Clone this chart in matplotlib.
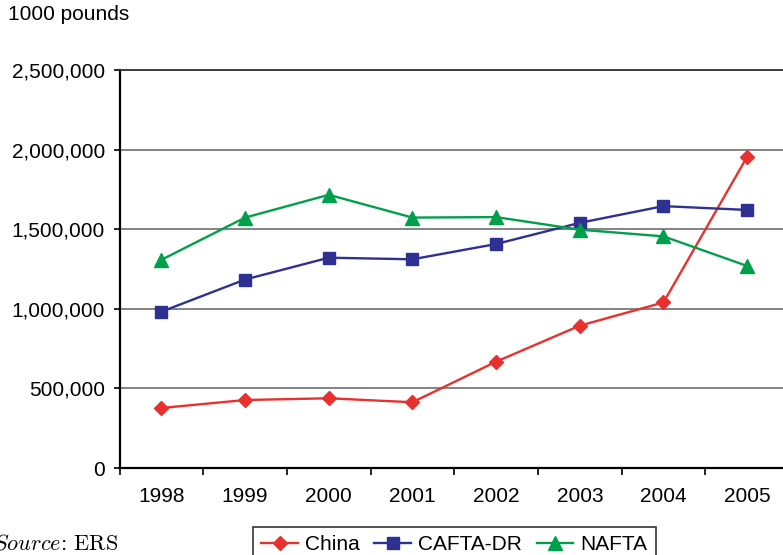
import matplotlib.pyplot as plt

plt.rcParams['font.family'] = ['Liberation Sans', 'DejaVu Sans']
plt.rcParams['mathtext.fontset'] = 'cm'

# Imports by source, 1000 pounds
years = ['1998', '1999', '2000', '2001', '2002', '2003', '2004', '2005']
china = [377000, 427000, 438000, 413000, 668000, 894000, 1040000, 1955000]
cafta_dr = [982000, 1184000, 1321000, 1311000, 1407000, 1540000, 1645000, 1621000]
nafta = [1308000, 1573000, 1716000, 1573000, 1576000, 1497000, 1455000, 1269000]
yticks = [0, 500000, 1000000, 1500000, 2000000, 2500000]

fig = plt.figure(figsize=(7.83, 5.55), dpi=100)
ax = fig.add_axes([119.6 / 783, 87 / 555, (789 - 119.6) / 783, 398 / 555])

x = range(len(years))
ax.plot(x, china, color='#E8312F', lw=1.7, marker='D', ms=7.5, label='China')
ax.plot(x, cafta_dr, color='#2E3192', lw=1.7, marker='s', ms=9, label='CAFTA-DR')
ax.plot(x, nafta, color='#00A04B', lw=1.7, marker='^', ms=10, label='NAFTA')

ax.set_xlim(-0.5, len(years) - 0.5)
ax.set_ylim(0, 2500000)
ax.set_yticks(yticks)
ax.set_yticklabels([f'{v:,}' for v in yticks])
ax.set_xticks([i for i in x])
ax.set_xticklabels(years)
ax.set_xticks([i - 0.5 for i in range(len(years) + 1)], minor=True)
ax.tick_params(axis='x', which='major', length=0, pad=14, labelsize=15)
ax.tick_params(axis='x', which='minor', length=5, width=1.2, direction='out')
ax.tick_params(axis='y', length=4.5, width=1.2, pad=6, labelsize=15)

ax.grid(axis='y', color='#7a7a7a', lw=1.3)
ax.set_axisbelow(True)
ax.spines['right'].set_visible(False)
ax.spines['top'].set_color('#333333')
ax.spines['top'].set_linewidth(1.3)
ax.spines['left'].set_linewidth(1.6)
ax.spines['bottom'].set_linewidth(1.6)

fig.text(8 / 783, 1 - 15 / 555, '1000 pounds', fontsize=15, va='center', ha='left')
fig.text(118 / 783, 1 - 543 / 555, r'$\mathit{Source}$: ERS', fontsize=16,
         family='cmr10', va='center', ha='right')

leg = fig.legend(loc='upper left', bbox_to_anchor=(253 / 783, 1 - 527 / 555), ncol=3,
                 fontsize=15, frameon=True, fancybox=False, edgecolor='black',
                 handlelength=1.75, handletextpad=0.35, columnspacing=0.7,
                 borderpad=0.4, borderaxespad=0)
leg.get_frame().set_linewidth(1.2)

fig.savefig('out.png', dpi=100)
